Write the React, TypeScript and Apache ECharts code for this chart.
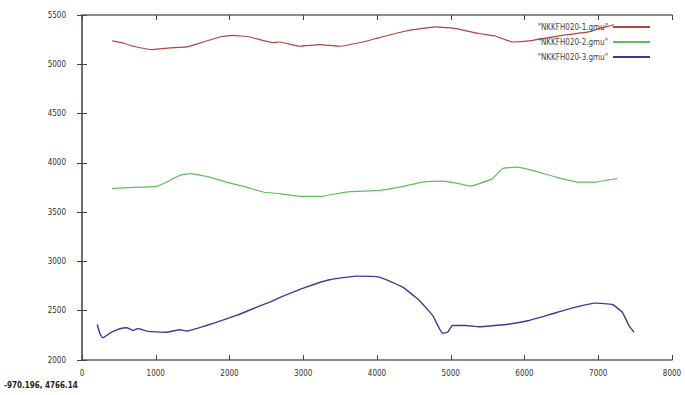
import React, { useEffect, useRef } from "react";
import * as echarts from "echarts";

const xTicks = [0, 1000, 2000, 3000, 4000, 5000, 6000, 7000, 8000];
const yTicks = [2000, 2500, 3000, 3500, 4000, 4500, 5000, 5500];

const seriesNames = ['"NKKFH020-1.gmu"', '"NKKFH020-2.gmu"', '"NKKFH020-3.gmu"'];
const seriesColors = ["#b2443f", "#5fbf5a", "#3d3a9a"];

const redX = [410, 559, 694, 965, 1191, 1417, 1641, 1867, 2047, 2273, 2589, 2679, 2950, 3220, 3491, 3806, 4032, 4393, 4799, 5070, 5386, 5612, 5836, 6062, 6513, 6874, 7009, 7190, 7212];
const redY = [5237, 5216, 5183, 5149, 5166, 5176, 5226, 5277, 5294, 5277, 5220, 5226, 5183, 5200, 5183, 5226, 5271, 5338, 5379, 5362, 5312, 5284, 5226, 5237, 5294, 5328, 5362, 5396, 5403];

const greenX = [410, 605, 1011, 1146, 1326, 1461, 1687, 1958, 2229, 2453, 2679, 2950, 3265, 3581, 4032, 4303, 4618, 4889, 5070, 5273, 5386, 5566, 5701, 5882, 6107, 6423, 6739, 6965, 7100, 7257];
const greenY = [3738, 3748, 3761, 3805, 3873, 3890, 3863, 3805, 3754, 3704, 3687, 3660, 3663, 3704, 3721, 3754, 3805, 3815, 3795, 3764, 3789, 3840, 3941, 3957, 3924, 3856, 3805, 3805, 3822, 3840];

const blueX = [207, 244, 280, 334, 402, 514, 605, 694, 762, 875, 1146, 1326, 1417, 1687, 1867, 2093, 2318, 2544, 2679, 3040, 3356, 3717, 4032, 4348, 4574, 4754, 4889, 4957, 5024, 5205, 5386, 5747, 6062, 6378, 6694, 6965, 7190, 7326, 7416, 7484];
const blueY = [2360, 2266, 2225, 2249, 2282, 2317, 2327, 2300, 2320, 2293, 2282, 2307, 2293, 2350, 2394, 2452, 2520, 2587, 2633, 2739, 2814, 2851, 2841, 2739, 2604, 2452, 2272, 2282, 2350, 2350, 2337, 2360, 2401, 2469, 2536, 2577, 2563, 2485, 2350, 2282];

const pairs = (xs: number[], ys: number[]) => xs.map((x, i) => [x, ys[i]]);

const fontFamily = "DejaVu Sans Condensed, DejaVu Sans, sans-serif";
const labelFont = { fontSize: 8, color: "#333", fontFamily };

export default function App() {
  const ref = useRef<HTMLDivElement>(null);
  useEffect(() => {
    if (!ref.current) return;
    const chart = echarts.init(ref.current, null, { renderer: "svg" });
    const axisLine = { show: true, lineStyle: { color: "#666", width: 1.5 } };
    const tick = { show: true, inside: true, length: 5, lineStyle: { color: "#444", width: 1 } };
    const plain = (v: number) => String(v);
    const data = [pairs(redX, redY), pairs(greenX, greenY), pairs(blueX, blueY)];
    chart.setOption({
      animation: false,
      backgroundColor: "#fff",
      grid: { left: 82, top: 15, right: 13, bottom: 35, containLabel: false },
      xAxis: [
        {
          type: "value", min: xTicks[0], max: xTicks[xTicks.length - 1], interval: 1000,
          axisLine, axisTick: tick, splitLine: { show: false },
          axisLabel: { ...labelFont, margin: 9, formatter: plain },
        },
        {
          type: "value", position: "top", min: xTicks[0], max: xTicks[xTicks.length - 1], interval: 1000,
          axisLine, axisTick: tick, splitLine: { show: false }, axisLabel: { show: false },
        },
      ],
      yAxis: [
        {
          type: "value", min: yTicks[0], max: yTicks[yTicks.length - 1], interval: 500,
          axisLine, axisTick: tick, splitLine: { show: false },
          axisLabel: { ...labelFont, margin: 16, formatter: plain },
        },
        {
          type: "value", position: "right", min: yTicks[0], max: yTicks[yTicks.length - 1], interval: 500,
          axisLine, axisTick: tick, splitLine: { show: false }, axisLabel: { show: false },
        },
      ],
      legend: {
        orient: "vertical",
        align: "right",
        right: 30,
        top: 18,
        itemWidth: 37,
        itemHeight: 2,
        itemGap: 7,
        icon: "rect",
        textStyle: { fontSize: 8, color: "#444", fontFamily },
        data: seriesNames,
      },
      series: seriesNames.map((name, i) => ({
        name,
        type: "line",
        xAxisIndex: 0,
        yAxisIndex: 0,
        data: data[i],
        showSymbol: false,
        symbol: "none",
        smooth: 0.12,
        color: seriesColors[i],
        lineStyle: { color: seriesColors[i], width: i === 2 ? 1.4 : 1.2 },
      })),
      graphic: [
        {
          type: "text",
          left: 4,
          top: 381,
          style: {
            text: "-970.196, 4766.14",
            fontSize: 8,
            fontWeight: "bold",
            fill: "#222",
            fontFamily,
          },
        },
      ],
    });
    return () => chart.dispose();
  }, []);
  return (
    <div
      ref={ref}
      style={{ position: "fixed", left: 0, top: 0, width: 685, height: 395, background: "#fff" }}
    />
  );
}
